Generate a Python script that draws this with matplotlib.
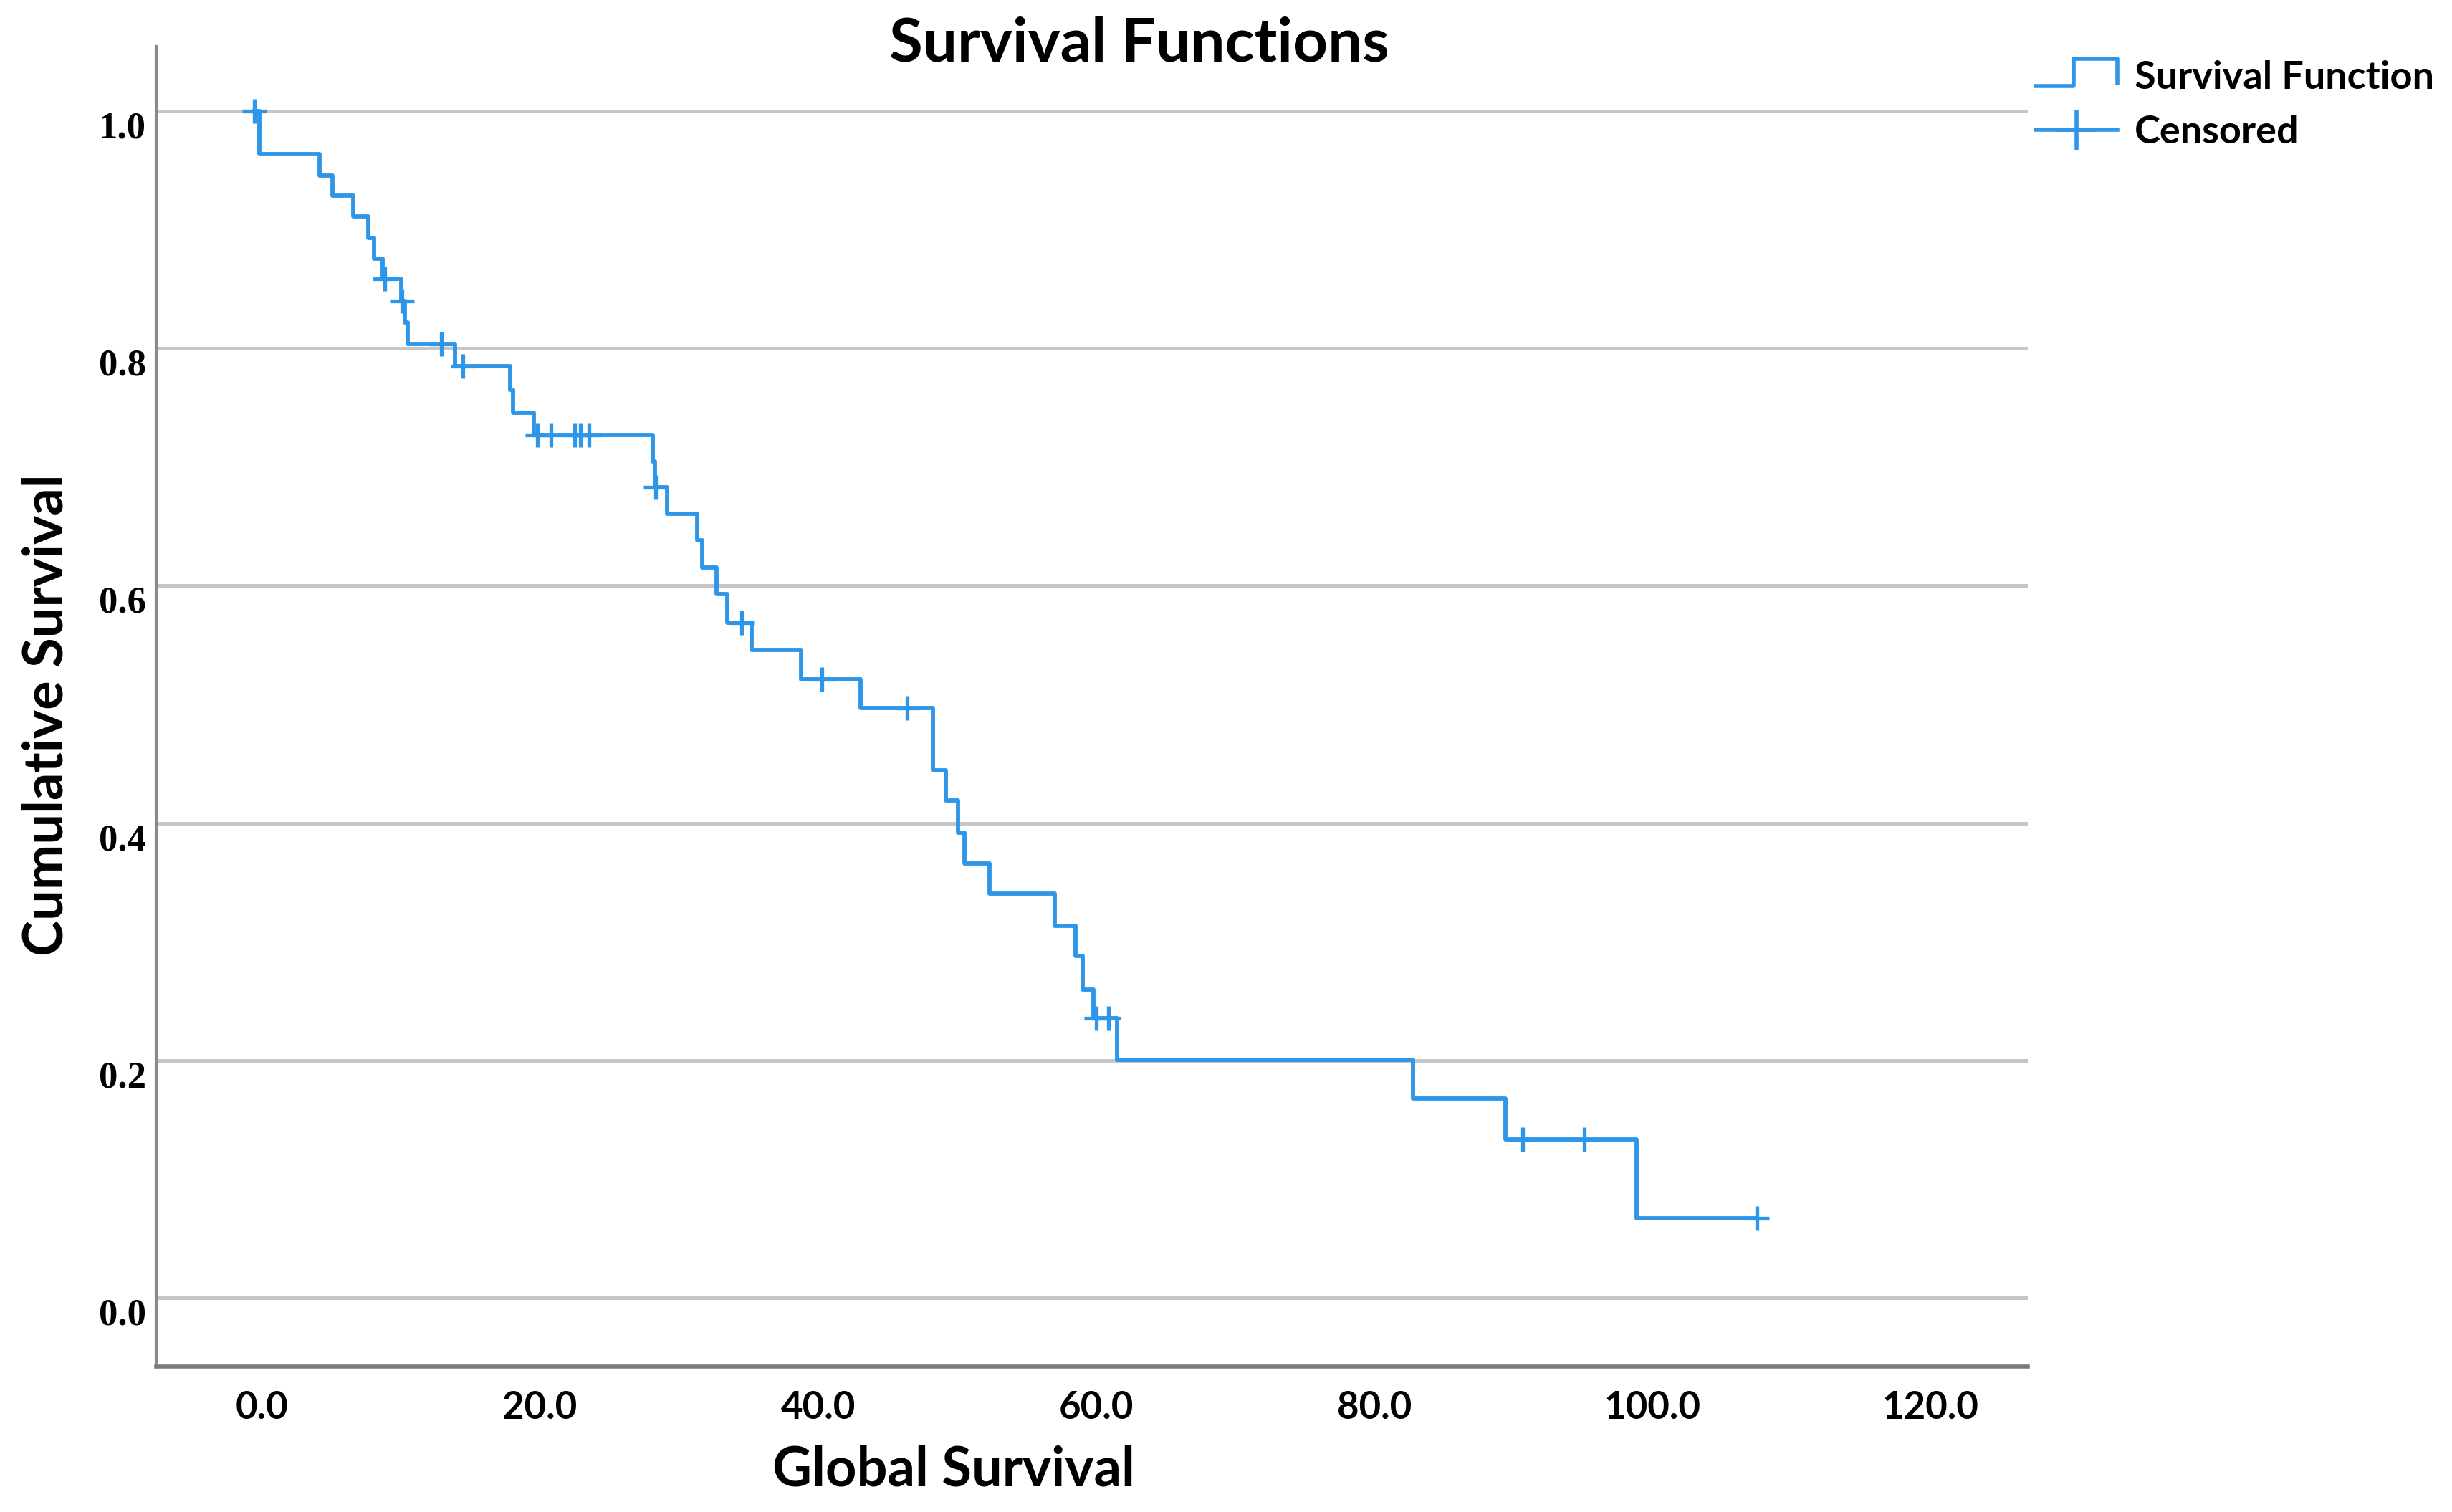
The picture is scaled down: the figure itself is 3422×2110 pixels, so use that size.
import numpy as np
import matplotlib
matplotlib.use("Agg")
import matplotlib.pyplot as plt
import matplotlib.transforms as mtransforms
from matplotlib.lines import Line2D
from matplotlib.legend_handler import HandlerBase

# Kaplan-Meier steps
event_times = [0.37, 4.71, 5.63, 7.13, 8.2, 8.6, 9.23, 10.55, 10.8, 11.0,
               14.44, 18.4, 18.6, 20.09, 28.66, 28.8, 29.66, 31.82, 32.2, 33.21,
               33.98, 35.73, 39.30, 43.57, 48.77, 49.72, 50.58, 51.05, 52.83, 57.56,
               59.02, 59.53, 60.32, 62.01, 83.30, 89.93, 99.35]
survival = [0.9635, 0.9458, 0.9286, 0.9113, 0.893, 0.8758, 0.8585, 0.840, 0.822, 0.8036,
            0.7853, 0.765, 0.7455, 0.727, 0.705, 0.683, 0.6605, 0.6385, 0.6156, 0.5928,
            0.569, 0.5457, 0.5214, 0.497, 0.4446, 0.419, 0.392, 0.366, 0.3405, 0.3136,
            0.288, 0.260, 0.2355, 0.2005, 0.168, 0.1333, 0.0672]
censored_times = [0.0, 9.36, 10.62, 13.44, 15.01, 20.35, 21.32, 23.03, 23.43, 24.08,
                  28.87, 35.02, 40.78, 46.91, 60.51, 61.38, 91.19, 95.61, 108.03]

x_ticks = [0, 20, 40, 60, 80, 100, 120]
y_ticks = [0.0, 0.2, 0.4, 0.6, 0.8, 1.0]

blue = '#2e96e8'
grid_col = '#c6c6c6'

def surv_at(t):
    i = np.searchsorted(event_times, t, side='right') - 1
    return 1.0 if i < 0 else survival[i]

W, H, DPI = 3422, 2110, 200
fig = plt.figure(figsize=(W / DPI, H / DPI), dpi=DPI)
ax = fig.add_axes([218 / W, 1 - 1907 / H, (2830 - 218) / W, (1907 - 65) / H])

xs = np.r_[0.0, event_times, censored_times[-1]]
ys = np.r_[1.0, survival, survival[-1]]
ax.step(xs, ys, where='post', color=blue, lw=2.1, zorder=3)
cy = [surv_at(t) for t in censored_times]
ax.plot(censored_times, cy, ls='none', marker='+', ms=12, mew=1.9, color=blue, zorder=4)

for y in y_ticks:
    ax.axhline(y, color=grid_col, lw=1.8, zorder=1)

ax.set_xlim(-7.06, 127.5)
ax.set_ylim(-0.0579, 1.0543)
ax.set_xticks(x_ticks)
ax.set_xticklabels(['%.1f' % v for v in x_ticks])
ax.set_yticks(y_ticks)
ax.set_yticklabels(['%.1f' % v for v in y_ticks])

for s in ['top', 'right']:
    ax.spines[s].set_visible(False)
ax.spines['left'].set_color('#8a8a8a')
ax.spines['left'].set_linewidth(1.5)
ax.spines['bottom'].set_color('#7a7a7a')
ax.spines['bottom'].set_linewidth(2.0)

ax.tick_params(axis='x', length=0, pad=12)
ax.tick_params(axis='y', length=0, pad=5)
for lab in ax.get_xticklabels():
    lab.set_fontfamily('Lato')
    lab.set_fontweight('bold')
    lab.set_fontsize(19)
    lab.set_transform(lab.get_transform() + mtransforms.ScaledTranslation(10 / DPI, 0, fig.dpi_scale_trans))
for lab in ax.get_yticklabels():
    lab.set_fontfamily('Liberation Serif')
    lab.set_fontweight('bold')
    lab.set_fontsize(19)
    lab.set_transform(lab.get_transform() + mtransforms.ScaledTranslation(0, -19 / DPI, fig.dpi_scale_trans))

fig.text(1590 / W, 1 - 61 / H, 'Survival Functions', ha='center', va='center',
         fontfamily='Lato', fontweight='bold', fontsize=30.7)
fig.text(1331 / W, 1 - 2051 / H, 'Global Survival', ha='center', va='center',
         fontfamily='Lato', fontweight='bold', fontsize=27.3)
fig.text(66 / W, 1 - 998 / H, 'Cumulative Survival', ha='center', va='center', rotation=90,
         fontfamily='Lato', fontweight='bold', fontsize=27.3)


class StepHandler(HandlerBase):
    def create_artists(self, legend, orig_handle, xdescent, ydescent, width, height, fontsize, trans):
        x0, y0 = -xdescent, -ydescent
        px = [x0, x0 + 0.47 * width, x0 + 0.47 * width, x0 + width, x0 + width]
        py = [y0 + 0.1 * height, y0 + 0.1 * height, y0 + 1.1 * height, y0 + 1.1 * height, y0 + 0.2 * height]
        ln = Line2D(px, py, color=blue, lw=2.0, transform=trans)
        return [ln]


h_surv = Line2D([], [], color=blue, lw=2.0)
h_cens = Line2D([], [], color=blue, lw=2.0, marker='+', ms=20, mew=2.0)
leg = fig.legend([h_surv, h_cens], ['Survival Function', 'Censored'],
                 handler_map={h_surv: StepHandler()},
                 loc='upper left', bbox_to_anchor=(2841 / W, 1 - 84 / H),
                 frameon=False, handlelength=2.1, handletextpad=0.45, labelspacing=0.5,
                 borderaxespad=0, borderpad=0,
                 prop={'family': 'Lato', 'weight': 'bold', 'size': 19.5})

fig.savefig('out.png', dpi=DPI)
